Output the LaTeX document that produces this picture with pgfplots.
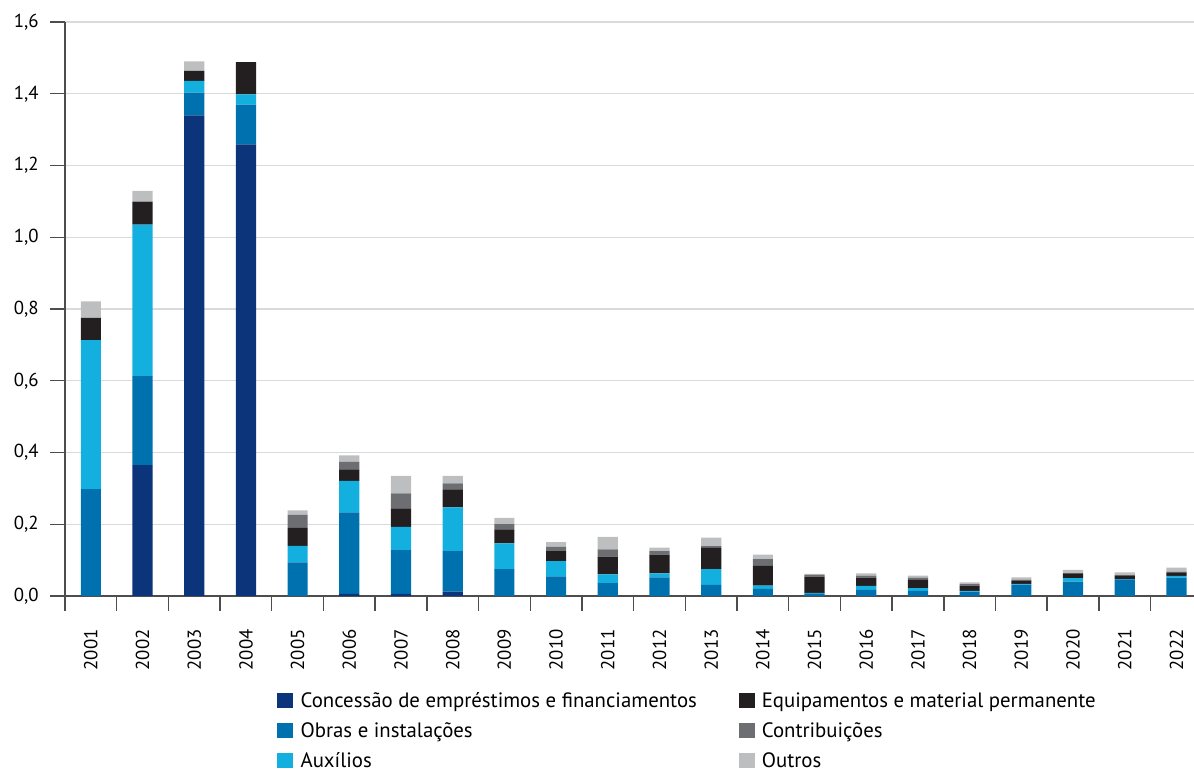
\documentclass[border=0pt]{standalone}
\usepackage{pgfplots}
\pgfplotsset{compat=1.18}
\usepackage{pgfplotstable}
\usepackage{fontspec}
\setmainfont{PT Sans}
\definecolor{cconc}{HTML}{0B347B}
\definecolor{cobras}{HTML}{0071AF}
\definecolor{caux}{HTML}{13B0DF}
\definecolor{cequip}{HTML}{231F20}
\definecolor{ccontrib}{HTML}{6D6E71}
\definecolor{coutros}{HTML}{BCBEC0}
\definecolor{gridc}{HTML}{DADADA}
\definecolor{axc}{HTML}{4D4D4D}
\pgfplotstableread{
x conc obras aux equip contrib outros
0 0 0.298 0.415 0.062 0 0.046
1 0.365 0.248 0.422 0.064 0 0.030
2 1.340 0.063 0.033 0.028 0 0.026
3 1.259 0.111 0.028 0.090 0 0
4 0 0.094 0.046 0.050 0.036 0.013
5 0.006 0.227 0.088 0.032 0.021 0.018
6 0.006 0.122 0.065 0.051 0.042 0.049
7 0.012 0.113 0.122 0.050 0.017 0.021
8 0 0.075 0.072 0.039 0.014 0.018
9 0 0.055 0.042 0.028 0.012 0.013
10 0 0.036 0.024 0.050 0.020 0.035
11 0 0.052 0.011 0.052 0.010 0.010
12 0 0.031 0.044 0.059 0.005 0.024
13 0 0.020 0.009 0.055 0.019 0.012
14 0 0.007 0.002 0.045 0.005 0.003
15 0 0.017 0.011 0.023 0.006 0.006
16 0 0.014 0.008 0.023 0.006 0.006
17 0 0.012 0.002 0.015 0.004 0.005
18 0 0.032 0.002 0.008 0.003 0.007
19 0 0.040 0.010 0.013 0.001 0.009
20 0 0.046 0.001 0.009 0.002 0.008
21 0 0.051 0.005 0.010 0.002 0.011
}\datatable
\begin{document}
\begin{tikzpicture}
\begin{axis}[
  at={(0,0)}, anchor=south west,
  scale only axis, width=564.5pt, height=287pt,
  ybar stacked, bar width=0.39,
  xmin=-0.5, xmax=21.34, ymin=0, ymax=1.6,
  axis x line*=bottom, axis y line*=left,
  axis line style={axc, line width=0.7pt},
  tick align=outside,
  xtick={0,...,21},
  xticklabels={2001,2002,2003,2004,2005,2006,2007,2008,2009,2010,2011,2012,2013,2014,2015,2016,2017,2018,2019,2020,2021,2022},
  minor xtick={-0.5,0.5,...,20.5},
  major x tick style={draw=none},
  minor x tick style={axc, line width=0.7pt},
  minor tick length=7.5pt,
  major tick length=7.5pt,
  y tick style={axc, line width=0.7pt},
  ytick={0,0.2,...,1.6},
  ymajorgrids, grid style={gridc, line width=0.6pt},
  xticklabel style={rotate=90, anchor=east, inner sep=0pt, xshift=-9pt, font=\fontsize{9.4}{10}\selectfont},
  yticklabel style={anchor=east, inner sep=0pt, xshift=-5.5pt, font=\fontsize{9.4}{10}\selectfont},
  /pgf/number format/.cd, use comma, fixed, fixed zerofill, precision=1, assume math mode=true,
  /pgfplots/.cd,
  legend style={at={(0.1877,-0.1664)}, anchor=north west, draw=none, inner sep=0pt,
    font=\fontsize{10.4}{12}\selectfont,
    cells={anchor=base west},
    nodes={inner sep=0pt, text height=8pt, text depth=0pt},
    row sep=7pt,
    /tikz/every odd column/.append style={column sep=3.65pt},
    /tikz/every even column/.append style={column sep=20.8pt}},
  legend columns=2,
  legend image code/.code={\fill[#1] (0pt,0pt) rectangle (8pt,7.5pt);},
]
\addplot[fill=cconc, draw=none, forget plot] table[x=x, y=conc] {\datatable};
\addplot[fill=cobras, draw=none, forget plot] table[x=x, y=obras] {\datatable};
\addplot[fill=caux, draw=none, forget plot] table[x=x, y=aux] {\datatable};
\addplot[fill=cequip, draw=none, forget plot] table[x=x, y=equip] {\datatable};
\addplot[fill=ccontrib, draw=none, forget plot] table[x=x, y=contrib] {\datatable};
\addplot[fill=coutros, draw=none, forget plot] table[x=x, y=outros] {\datatable};
\addlegendimage{fill=cconc, draw=none}
\addlegendentry{Concessão de empréstimos e financiamentos}
\addlegendimage{fill=cequip, draw=none}
\addlegendentry{Equipamentos e material permanente}
\addlegendimage{fill=cobras, draw=none}
\addlegendentry{Obras e instalações}
\addlegendimage{fill=ccontrib, draw=none}
\addlegendentry{Contribuições}
\addlegendimage{fill=caux, draw=none}
\addlegendentry{Auxílios}
\addlegendimage{fill=coutros, draw=none}
\addlegendentry{Outros}
\end{axis}
\pgfresetboundingbox
\path (-32.5pt,-86.5pt) rectangle (564.5pt,298pt);
\end{tikzpicture}
\end{document}
